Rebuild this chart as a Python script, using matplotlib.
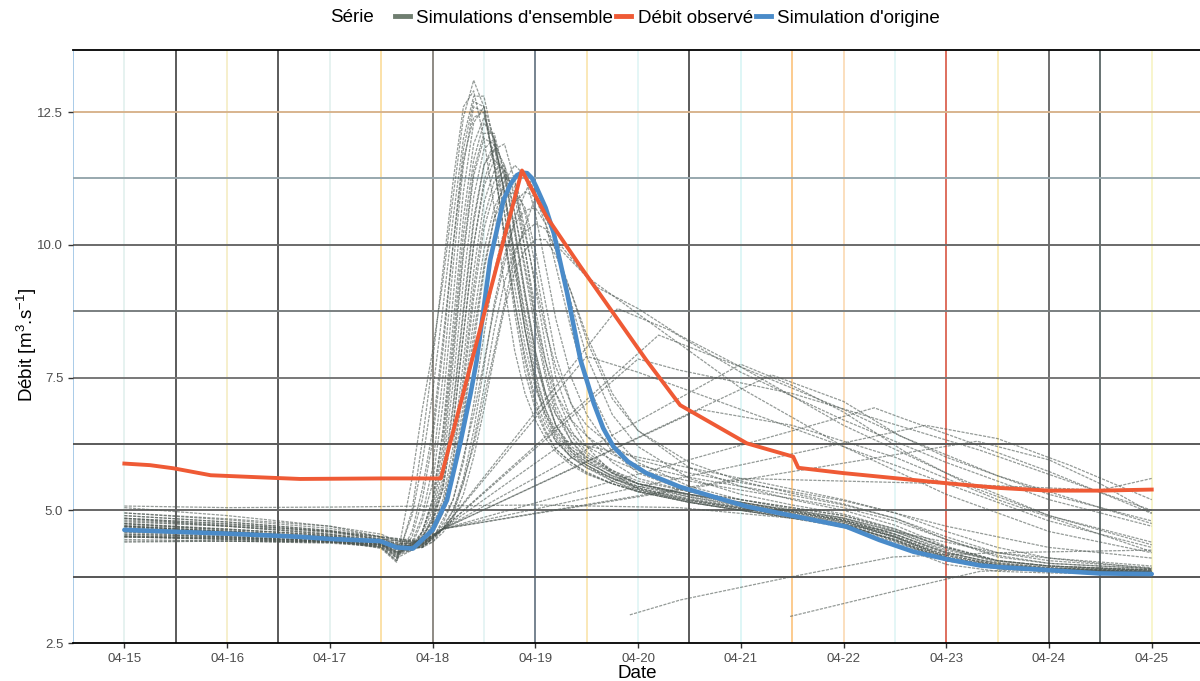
import numpy as np
import matplotlib.pyplot as plt
from matplotlib.lines import Line2D

plt.rcParams['font.family'] = ['Liberation Sans', 'DejaVu Sans']
plt.rcParams['mathtext.fontset'] = 'custom'
plt.rcParams['mathtext.rm'] = 'Liberation Sans'

# x positions are days after 04-15
date_labels = ['04-15', '04-16', '04-17', '04-18', '04-19', '04-20',
               '04-21', '04-22', '04-23', '04-24', '04-25']
y_ticks = [2.5, 5.0, 7.5, 10.0, 12.5]

# observed discharge
obs_days = [0.0, 0.25, 0.48, 0.84, 1.33, 1.71, 2.5, 3.08, 3.87, 4.11, 4.44,
            4.76, 5.08, 5.41, 6.06, 6.51, 6.56, 7.0, 8.0, 8.52, 9.0, 9.5, 10.0]
obs_flow = [5.88, 5.85, 5.79, 5.66, 5.62, 5.59, 5.6, 5.6, 11.4, 10.53, 9.59,
            8.71, 7.83, 6.98, 6.26, 6.01, 5.80, 5.70, 5.51, 5.42, 5.37, 5.37, 5.39]

# original simulation
orig_days = [0.0, 1.0, 1.71, 2.0, 2.49, 2.65, 2.81, 3.0, 3.14, 3.27, 3.37, 3.43,
             3.56, 3.69, 3.76, 3.82, 3.87, 3.92, 3.97, 4.01, 4.1, 4.18, 4.31, 4.44,
             4.57, 4.66, 4.76, 4.9, 5.08, 5.41, 6.06, 6.70, 7.03, 7.35, 7.68, 8.0,
             8.33, 8.52, 9.01, 9.49, 10.0]
orig_flow = [4.63, 4.56, 4.50, 4.46, 4.42, 4.30, 4.28, 4.63, 5.19, 6.27, 7.2, 7.83,
             9.71, 10.84, 11.15, 11.31, 11.36, 11.35, 11.25, 11.09, 10.7, 10.22,
             9.09, 7.83, 7.01, 6.55, 6.20, 5.92, 5.70, 5.44, 5.07, 4.82, 4.69, 4.44,
             4.22, 4.08, 3.96, 3.93, 3.87, 3.81, 3.80]

# ensemble: main bundle on a common day grid
bundle_days = [0, 1, 2, 2.5, 2.65, 2.8, 2.9, 3.0, 3.1, 3.2, 3.3, 3.4, 3.5, 3.6,
               3.7, 3.8, 3.9, 4.0, 4.1, 4.2, 4.35, 4.5, 4.75, 5.0, 5.5, 6.0,
               6.5, 7.0, 7.5, 8.0, 8.5, 9.0, 10.0]
bundle_flows = [
    [4.75, 4.62, 4.48, 4.3, 4.05, 5.6, 6.9, 8.0, 9.3, 10.9, 12.4, 13.1, 12.6, 11.5, 10.2, 8.9, 7.9, 7.1, 6.6, 6.3, 6.0, 5.8, 5.6, 5.45, 5.3, 5.15, 5.0, 4.85, 4.6, 4.25, 4.05, 3.95, 3.87],
    [4.85, 4.7, 4.55, 4.4, 4.1, 4.9, 5.9, 7.2, 8.8, 10.5, 12.0, 12.8, 12.8, 11.9, 10.6, 9.2, 8.1, 7.3, 6.8, 6.45, 6.1, 5.9, 5.65, 5.5, 5.3, 5.15, 4.98, 4.82, 4.55, 4.2, 4.0, 3.92, 3.85],
    [4.6, 4.52, 4.45, 4.35, 4.15, 4.4, 4.9, 5.8, 7.5, 9.6, 11.5, 12.6, 12.5, 11.6, 10.6, 9.5, 8.4, 7.4, 6.7, 6.3, 6.0, 5.85, 5.6, 5.4, 5.2, 5.05, 4.92, 4.78, 4.5, 4.12, 3.95, 3.88, 3.84],
    [4.7, 4.6, 4.48, 4.38, 4.2, 4.35, 4.8, 5.5, 7.0, 9.0, 11.0, 12.3, 12.6, 12.0, 10.9, 9.6, 8.4, 7.5, 6.9, 6.5, 6.15, 5.95, 5.7, 5.5, 5.3, 5.12, 4.96, 4.8, 4.5, 4.1, 3.95, 3.88, 3.83],
    [4.55, 4.5, 4.42, 4.3, 4.1, 4.25, 4.6, 5.2, 6.5, 8.5, 10.5, 11.9, 12.4, 12.0, 11.0, 9.8, 8.6, 7.6, 6.9, 6.4, 6.05, 5.85, 5.6, 5.42, 5.22, 5.06, 4.9, 4.75, 4.42, 4.05, 3.9, 3.85, 3.82],
    [5.05, 4.9, 4.7, 4.5, 4.3, 4.35, 4.6, 5.1, 6.2, 8.0, 9.9, 11.4, 12.1, 12.1, 11.3, 10.2, 9.0, 7.9, 7.1, 6.6, 6.2, 6.0, 5.75, 5.55, 5.35, 5.2, 5.05, 4.9, 4.65, 4.3, 4.05, 3.95, 3.88],
    [4.45, 4.42, 4.38, 4.32, 4.15, 4.25, 4.45, 4.9, 5.8, 7.4, 9.3, 10.9, 11.8, 12.0, 11.4, 10.3, 9.1, 8.0, 7.2, 6.6, 6.15, 5.9, 5.65, 5.45, 5.25, 5.1, 4.95, 4.8, 4.5, 4.12, 3.95, 3.88, 3.82],
    [4.65, 4.55, 4.45, 4.35, 4.2, 4.3, 4.5, 4.85, 5.6, 7.0, 8.8, 10.5, 11.5, 11.8, 11.3, 10.3, 9.1, 8.0, 7.2, 6.6, 6.1, 5.85, 5.55, 5.35, 5.15, 5.0, 4.85, 4.7, 4.4, 4.05, 3.9, 3.85, 3.8],
    [4.9, 4.78, 4.62, 4.45, 4.3, 4.35, 4.5, 4.8, 5.4, 6.6, 8.3, 10.0, 11.1, 11.6, 11.4, 10.6, 9.5, 8.4, 7.5, 6.8, 6.3, 6.0, 5.7, 5.5, 5.3, 5.15, 5.0, 4.85, 4.55, 4.2, 4.0, 3.9, 3.84],
    [4.8, 4.7, 4.55, 4.42, 4.28, 4.33, 4.45, 4.7, 5.2, 6.2, 7.8, 9.5, 10.8, 11.4, 11.5, 10.9, 9.9, 8.8, 7.8, 7.0, 6.4, 6.05, 5.72, 5.5, 5.28, 5.12, 4.97, 4.82, 4.52, 4.15, 3.97, 3.9, 3.84],
    [4.5, 4.45, 4.4, 4.35, 4.22, 4.28, 4.4, 4.62, 5.05, 5.9, 7.3, 9.0, 10.3, 11.0, 11.3, 11.1, 10.3, 9.2, 8.1, 7.2, 6.5, 6.1, 5.75, 5.5, 5.25, 5.08, 4.93, 4.78, 4.48, 4.1, 3.93, 3.87, 3.82],
    [4.62, 4.55, 4.47, 4.38, 4.22, 4.25, 4.35, 4.55, 4.95, 5.7, 7.0, 8.6, 9.9, 10.7, 11.1, 11.2, 10.6, 9.6, 8.5, 7.5, 6.7, 6.2, 5.7, 5.4, 5.15, 5.0, 4.85, 4.68, 4.35, 3.98, 3.85, 3.82, 3.79],
    [4.95, 4.82, 4.66, 4.5, 4.35, 4.38, 4.48, 4.65, 5.0, 5.6, 6.8, 8.3, 9.6, 10.5, 10.9, 11.0, 10.7, 9.9, 8.9, 7.9, 7.0, 6.4, 5.9, 5.6, 5.35, 5.2, 5.05, 4.9, 4.62, 4.3, 4.05, 3.95, 3.87],
    [4.4, 4.42, 4.4, 4.3, 4.05, 4.6, 5.4, 6.5, 8.2, 10.0, 11.6, 12.4, 12.5, 11.5, 10.2, 8.9, 7.8, 7.0, 6.5, 6.15, 5.9, 5.7, 5.5, 5.35, 5.15, 5.0, 4.88, 4.72, 4.45, 4.08, 3.93, 3.87, 3.82],
    [4.75, 4.65, 4.52, 4.4, 4.22, 4.3, 4.6, 5.2, 6.4, 8.2, 10.2, 11.6, 12.3, 12.0, 11.0, 9.8, 8.7, 7.8, 7.2, 6.8, 6.45, 6.2, 5.95, 5.75, 5.55, 5.38, 5.22, 5.05, 4.8, 4.45, 4.15, 4.0, 3.9],
    [4.85, 4.74, 4.6, 4.45, 4.3, 4.35, 4.5, 4.8, 5.5, 6.9, 8.7, 10.4, 11.5, 11.9, 11.5, 10.6, 9.6, 8.6, 7.8, 7.2, 6.7, 6.4, 6.05, 5.85, 5.62, 5.45, 5.28, 5.1, 4.85, 4.5, 4.2, 4.05, 3.92],
    [4.7, 4.6, 4.5, 4.4, 4.25, 4.3, 4.42, 4.65, 5.1, 6.0, 7.5, 9.2, 10.5, 11.2, 11.4, 11.0, 10.2, 9.3, 8.4, 7.7, 7.0, 6.6, 6.2, 5.95, 5.7, 5.52, 5.35, 5.18, 4.95, 4.6, 4.3, 4.1, 3.95],
    [4.58, 4.5, 4.42, 4.32, 4.12, 4.5, 5.2, 6.3, 8.0, 10.0, 11.8, 12.7, 12.6, 11.5, 10.1, 8.7, 7.6, 6.9, 6.45, 6.15, 5.9, 5.72, 5.5, 5.35, 5.15, 5.0, 4.86, 4.72, 4.45, 4.08, 3.92, 3.86, 3.82],
    [4.68, 4.58, 4.48, 4.36, 4.18, 4.3, 4.55, 5.0, 6.0, 7.8, 9.8, 11.3, 12.0, 11.9, 11.0, 9.7, 8.4, 7.4, 6.8, 6.35, 6.0, 5.8, 5.55, 5.38, 5.18, 5.03, 4.88, 4.73, 4.43, 4.06, 3.91, 3.86, 3.81],
    [4.75, 4.64, 4.52, 4.42, 4.3, 4.3, 4.35, 4.5, 4.75, 5.2, 5.9, 7.0, 8.3, 9.5, 10.3, 10.8, 11.0, 10.9, 10.4, 9.6, 8.4, 7.4, 6.4, 5.9, 5.45, 5.2, 5.02, 4.86, 4.6, 4.22, 3.98, 3.9, 3.84],
    [4.6, 4.55, 4.48, 4.4, 4.3, 4.28, 4.32, 4.45, 4.65, 5.0, 5.6, 6.5, 7.7, 8.9, 9.8, 10.4, 10.65, 10.7, 10.4, 9.9, 8.9, 7.9, 6.8, 6.2, 5.6, 5.3, 5.1, 4.93, 4.65, 4.28, 4.02, 3.92, 3.85],
    [4.95, 4.84, 4.7, 4.55, 4.42, 4.4, 4.42, 4.5, 4.7, 5.0, 5.5, 6.3, 7.3, 8.4, 9.3, 9.9, 10.25, 10.4, 10.3, 9.9, 9.1, 8.2, 7.1, 6.5, 5.9, 5.55, 5.32, 5.12, 4.85, 4.45, 4.12, 4.0, 3.9],
    [4.5, 4.47, 4.42, 4.37, 4.28, 4.27, 4.3, 4.4, 4.58, 4.85, 5.3, 6.0, 6.9, 7.9, 8.8, 9.5, 9.9, 10.1, 10.1, 9.8, 9.1, 8.3, 7.2, 6.5, 5.8, 5.45, 5.2, 5.0, 4.72, 4.32, 4.05, 3.95, 3.86],
    [4.7, 4.6, 4.5, 4.4, 4.26, 4.28, 4.38, 4.58, 4.95, 5.6, 6.7, 8.1, 9.5, 10.5, 11.2, 11.5, 11.3, 10.6, 9.6, 8.6, 7.5, 6.8, 6.1, 5.7, 5.35, 5.15, 4.98, 4.82, 4.55, 4.18, 3.96, 3.89, 3.83],
    [4.52, 4.48, 4.42, 4.34, 4.18, 4.26, 4.42, 4.75, 5.4, 6.6, 8.3, 10.0, 11.2, 11.8, 11.9, 11.2, 9.9, 8.6, 7.6, 6.9, 6.3, 5.95, 5.62, 5.42, 5.2, 5.04, 4.9, 4.74, 4.44, 4.06, 3.9, 3.85, 3.81],
    [4.66, 4.56, 4.45, 4.28, 4.02, 5.0, 6.3, 7.8, 9.5, 11.2, 12.6, 12.9, 12.0, 10.7, 9.2, 8.0, 7.2, 6.7, 6.35, 6.1, 5.85, 5.68, 5.5, 5.36, 5.18, 5.03, 4.9, 4.75, 4.5, 4.15, 3.97, 3.9, 3.84],
]

# ensemble: members with a slower or delayed response
delayed_days = [
    [0, 1, 2, 2.5, 2.8, 3.0, 3.2, 3.4, 3.6, 3.8, 3.95, 4.2, 4.5, 5.0, 5.5, 6.0, 7.0, 8.0, 9.0, 10.0],
    [0, 1, 2, 2.5, 2.8, 3.0, 3.2, 3.4, 3.6, 3.8, 4.0, 4.25, 4.6, 5.0, 5.4, 6.0, 7.0, 8.0, 9.0, 10.0],
    [0, 1, 2, 2.5, 2.9, 3.1, 4.8, 5.3, 6.0, 7.0, 8.0, 9.0, 10.0],
    [0, 1, 2, 2.5, 2.9, 3.1, 5.2, 6.0, 7.0, 8.0, 9.0, 10.0],
    [0, 1, 2, 2.5, 2.9, 3.1, 6.0, 6.5, 7.0, 7.6, 8.3, 9.0, 10.0],
    [0, 1, 2, 2.5, 2.9, 3.1, 6.3, 7.0, 7.55, 8.5, 10.0],
    [0, 1, 2, 2.5, 2.9, 3.1, 7.3, 7.55, 8.2, 9.0, 10.0],
    [0, 1, 2, 2.5, 2.9, 3.1, 7.8, 8.5, 9.2, 10.0],
    [0, 1, 2, 2.5, 2.9, 3.1, 8.3, 9.0, 9.5, 10.0],
    [0, 1, 2, 2.5, 2.9, 3.1, 6.0, 8.0, 9.5, 10.0],
    [0, 1, 2, 2.5, 4.0, 5.4, 6.5, 7.5, 8.5, 10.0],
    [0, 1, 2, 2.5, 2.9, 3.1, 5.0, 5.4, 6.5, 8.33, 10.0],
    [0, 1, 2, 2.5, 2.9, 3.1, 4.5, 5.0, 6.0, 7.0, 8.0, 9.0, 10.0],
    [0, 1, 2, 2.5, 2.9, 3.1, 5.6, 6.5, 7.5, 8.5, 10.0],
    [0, 1, 2, 2.5, 2.9, 3.1, 4.3, 5.0, 6.0, 7.0, 8.0, 9.0, 10.0],
]
delayed_flows = [
    [4.7, 4.6, 4.48, 4.38, 4.3, 4.45, 5.2, 6.8, 8.8, 10.5, 11.2, 10.1, 9.4, 8.7, 8.0, 7.3, 6.2, 5.3, 4.6, 4.2],
    [4.55, 4.5, 4.42, 4.32, 4.28, 4.4, 4.9, 6.2, 8.0, 9.8, 10.9, 9.9, 9.2, 8.8, 8.3, 7.7, 6.6, 5.7, 4.9, 4.35],
    [4.5, 4.45, 4.4, 4.35, 4.3, 4.65, 8.8, 8.4, 7.6, 6.7, 5.9, 5.2, 4.7],
    [4.85, 4.75, 4.6, 4.5, 4.4, 4.65, 8.3, 7.7, 6.9, 6.0, 5.3, 4.8],
    [4.78, 4.7, 4.58, 4.45, 4.38, 4.65, 7.75, 7.35, 6.85, 6.1, 5.4, 4.9, 4.4],
    [4.9, 4.78, 4.62, 4.5, 4.42, 4.65, 7.55, 7.05, 6.4, 5.65, 4.75],
    [4.6, 4.55, 4.5, 4.4, 4.35, 4.65, 6.93, 6.75, 6.3, 5.73, 4.94],
    [4.72, 4.64, 4.54, 4.45, 4.4, 4.65, 6.6, 6.35, 5.85, 5.2],
    [4.65, 4.6, 4.5, 4.42, 4.36, 4.65, 6.3, 5.95, 5.5, 4.95],
    [4.52, 4.48, 4.42, 4.38, 4.32, 4.65, 5.6, 5.5, 5.38, 5.6],
    [5.08, 5.05, 5.06, 5.07, 5.1, 5.05, 4.85, 4.6, 4.2, 3.9],
    [4.82, 4.72, 4.6, 4.48, 4.4, 4.65, 7.85, 7.64, 7.2, 6.13, 5.0],
    [4.62, 4.56, 4.48, 4.4, 4.35, 4.65, 7.9, 7.6, 6.9, 6.2, 5.5, 4.8, 4.3],
    [4.42, 4.42, 4.4, 4.36, 4.3, 4.65, 6.9, 6.6, 6.0, 5.2, 4.22],
    [4.5, 4.46, 4.4, 4.34, 4.3, 4.65, 6.3, 6.0, 5.6, 5.2, 4.7, 4.3, 4.1],
]

# ensemble: members starting late
late_days = [[4.92, 5.41, 6.5, 7.48, 8.5, 10.0],
             [6.48, 7.55, 8.33, 9.0, 10.0]]
late_flows = [[3.03, 3.31, 3.75, 4.12, 4.2, 4.25],
              [3.0, 3.5, 3.85, 3.9, 3.88]]

fig = plt.figure(figsize=(12, 6.81), dpi=100)
ax = fig.add_axes([73 / 1200, 1 - 643 / 681, 1 - 73 / 1200, (643 - 50) / 681])

# coloured grid, as in the original
vgrid_colors = ['#a9cbe8', '#e6f2f0', '#5a5a5a', '#f6efcc', '#5a5a5a', '#e6f2f0',
                '#fbe1a8', '#8e8a84', '#e6f4f4', '#76838f', '#fae8b8', '#e4f6f6',
                '#5a5a5a', '#def6f6', '#fccb8e', '#fbdfbe', '#e4f6f6', '#de6f5e',
                '#faedbc', '#6e6e6e', '#667272', '#f8f5cc']
for k, c in enumerate(vgrid_colors):
    ax.axvline(-0.5 + 0.5 * k, color=c, lw=1.4, zorder=0)
hgrid = {3.75: '#555555', 5.0: '#666666', 6.25: '#5a5a5a', 7.5: '#787878',
         8.75: '#7a7f80', 10.0: '#6a6a6a', 11.25: '#98a8ae', 12.5: '#d8b48e'}
for yv, c in hgrid.items():
    ax.axhline(yv, color=c, lw=1.4, zorder=0)

ens_style = dict(color='#4e5853', lw=0.9, alpha=0.6, ls=(0, (2.5, 1)), zorder=2)
for fl in bundle_flows:
    ax.plot(bundle_days, fl, **ens_style)
for d, fl in zip(delayed_days, delayed_flows):
    ax.plot(d, fl, **ens_style)
for d, fl in zip(late_days, late_flows):
    ax.plot(d, fl, **ens_style)

ax.plot(orig_days, orig_flow, color='#4a8bc9', lw=3.3, zorder=3,
        solid_joinstyle='round', solid_capstyle='round')
ax.plot(obs_days, obs_flow, color='#ef5a35', lw=2.8, zorder=4,
        solid_joinstyle='round')

ax.set_xlim(-0.5, 10.47)
ax.set_ylim(2.5, 13.67)
ax.set_xticks(range(len(date_labels)))
ax.set_xticklabels(date_labels)
ax.set_yticks(y_ticks)
ax.set_yticklabels(['%.1f' % v for v in y_ticks])
ax.tick_params(axis='both', labelsize=9.5, labelcolor='#4d4d4d', color='#333333',
               length=3.5, width=1)
ax.tick_params(axis='x', pad=4)
for s in ['left', 'right']:
    ax.spines[s].set_visible(False)
for s in ['top', 'bottom']:
    ax.spines[s].set_color('black')
    ax.spines[s].set_linewidth(1.3)

fig.text(637 / 1200, 1 - 673 / 681, 'Date', ha='center', va='center', fontsize=13.5)
fig.text(27 / 1200, 1 - 345 / 681, 'Débit [m$^3$.s$^{-1}$]', ha='center',
         va='center', rotation=90, fontsize=13.5)

handles = [Line2D([], [], color='#6f7e70', lw=3.5),
           Line2D([], [], color='#ef5a35', lw=3.5),
           Line2D([], [], color='#4a8bc9', lw=3.5)]
labels = ["Simulations d'ensemble", 'Débit observé', "Simulation d'origine"]
fig.text(330 / 1200, 1 - 18 / 681, 'Série', ha='left', va='center', fontsize=13.5)
fig.legend(handles, labels, loc='center left', bbox_to_anchor=(378 / 1200, 1 - 18 / 681),
           ncol=3, frameon=False, fontsize=13.5, handlelength=0.8,
           handletextpad=0.35, columnspacing=0.15)

fig.savefig('out.png', dpi=100)
